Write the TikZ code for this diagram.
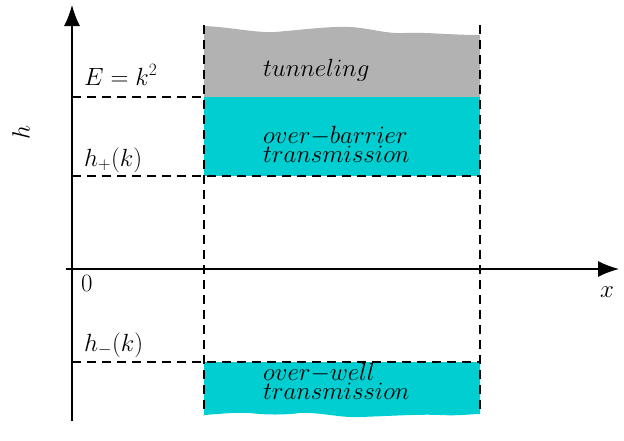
\documentclass[tikz,border=0pt]{standalone}
\usetikzlibrary{arrows.meta}
\definecolor{tgray}{RGB}{178,178,178}
\definecolor{tcyan}{RGB}{0,206,209}
\begin{document}
\begin{tikzpicture}[x=1pt,y=-1pt,
  axis/.style={line width=1.3pt,-{Latex[length=21pt,width=16pt]}},
  dline/.style={line width=1.3pt,dash pattern=on 9pt off 6pt},
  lbl/.style={inner sep=0pt,font=\fontsize{23}{26}\selectfont},
  region/.style={inner sep=0pt,align=left,font=\fontsize{24}{19}\selectfont}]
\useasboundingbox (0,0) rectangle (624,440);
% regions
\fill[tgray] (204,97) -- (204,26) .. controls (230,27) and (255,33) .. (275,32)
  .. controls (300,30) and (330,26) .. (350,27) .. controls (370,28) and (385,34) .. (405,33)
  .. controls (425,32) and (450,35) .. (480,35) -- (480,97) -- cycle;
\fill[tcyan] (204,97) rectangle (480,176);
\fill[tcyan] (204,362) -- (204,415) .. controls (220,414) and (235,412) .. (250,413)
  .. controls (265,415) and (285,415) .. (300,413) .. controls (320,412) and (340,418) .. (360,417)
  .. controls (390,416) and (420,414) .. (440,415) .. controls (460,416) and (470,414) .. (480,414)
  -- (480,362) -- cycle;
% coordinates
\coordinate (ybot) at (72,421);
\coordinate (ytop) at (72,5);
\coordinate (xl) at (66,269);
\coordinate (xr) at (619,269);
\coordinate (lt) at (204,25);
\coordinate (lb) at (204,415);
\coordinate (rt) at (480,25);
\coordinate (rb) at (480,413);
\coordinate (e0) at (72,97);
\coordinate (e1) at (204,97);
\coordinate (p0) at (72,176);
\coordinate (p1) at (480,176);
\coordinate (m0) at (72,362);
\coordinate (m1) at (480,362);
% axes
\draw[axis] (ybot) -- (ytop);
\draw[axis] (xl) -- (xr);
% dashed lines
\draw[dline] (lt) -- (lb);
\draw[dline] (rt) -- (rb);
\draw[dline] (e0) -- (e1);
\draw[dline] (p0) -- (p1);
\draw[dline] (m0) -- (m1);
% labels
\node[lbl,anchor=base west] (E) at (84,85) {$E=k^2$};
\node[lbl,anchor=base west] (hp) at (84,166) {$h_+(k)$};
\node[lbl,anchor=base west] (zero) at (81,291) {$0$};
\node[lbl,anchor=base west] (hm) at (84,351) {$h_-(k)$};
\node[lbl,font=\fontsize{30}{32}\selectfont,rotate=90] (h) at (21,132) {$h$};
\node[lbl] (x) at (607,292) {$x$};
\node[region,anchor=base west] (tun) at (263,76) {$tunneling$};
\node[region,anchor=base west] (ob) at (263,162) {$over{-}barrier$\\$transmission$};
\node[region,anchor=base west] (ow) at (263,399) {$over{-}well$\\$transmission$};
\end{tikzpicture}
\end{document}
